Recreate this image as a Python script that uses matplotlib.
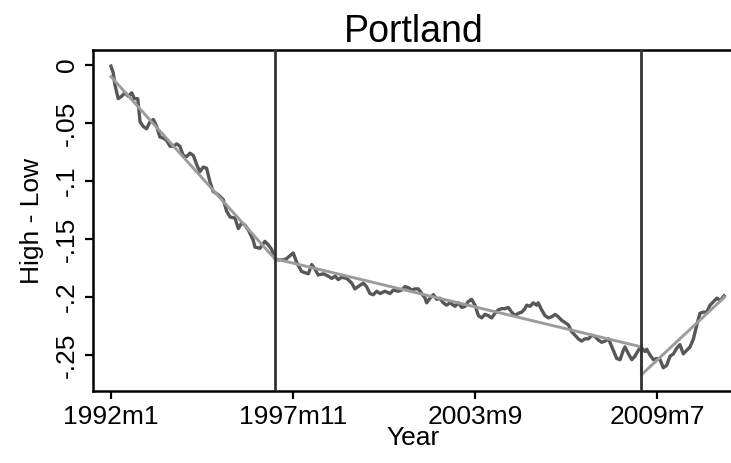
import numpy as np
import matplotlib
matplotlib.use("Agg")
import matplotlib.pyplot as plt

# months since 1992m1 (traced positions) and High - Low values
months = [0, 0.9, 1.5, 2.8, 4.1, 5.4, 6.7, 8.0, 9.0, 10.3, 11.2, 12.4, 13.7, 15.0, 16.3,
          17.6, 18.8, 20.1, 21.4, 22.7, 24.0, 25.3, 26.5, 27.8, 29.1, 30.4, 31.7, 33.0,
          34.2, 35.5, 36.8, 38.1, 39.3, 41.3, 43.2, 44.5, 45.8, 47.7, 49.0, 50.3, 51.5,
          52.8, 54.7, 55.4, 57.3, 59.2, 60.5, 61.8, 63.1, 64.3, 66.3, 67.5, 70.1, 71.4,
          73.3, 75.9, 77.2, 78.5, 79.7, 81.7, 83.6, 84.9, 86.2, 87.4, 88.7, 90.7, 92.6,
          93.8, 95.1, 97.0, 98.3, 99.6, 100.9, 102.2, 103.5, 105.4, 107.3, 108.6, 110.5,
          111.8, 113.1, 114.4, 115.7, 116.9, 118.2, 119.5, 120.8, 121.4, 122.7, 124.0,
          125.3, 126.5, 127.8, 129.1, 130.4, 131.7, 132.3, 133.6, 134.9, 136.2, 137.4,
          138.7, 140.0, 141.3, 142.6, 143.8, 145.1, 146.4, 147.7, 149.0, 150.3, 151.5,
          152.8, 154.1, 155.4, 156.7, 158.0, 159.2, 159.9, 161.2, 162.4, 163.7, 164.3,
          165.6, 166.9, 168.2, 169.5, 170.8, 172.0, 173.3, 174.6, 175.9, 177.2, 178.5,
          179.7, 181.0, 182.3, 183.6, 184.9, 186.2, 187.4, 188.7, 190.0, 191.3, 191.9,
          193.2, 194.5, 195.8, 197.0, 197.7, 199.0, 200.3, 201.5, 202.8, 203.7, 205.4,
          206.0, 207.3, 208.6, 209.9, 211.2, 212.4, 213.7, 215.0, 216.3, 217.6, 218.8,
          220.1, 221.4, 222.7, 224.0, 225.3, 226.5, 227.8, 229.1, 230.4, 231.7, 233.0,
          234.3, 235.8]
high_low = [-0.001, -0.007, -0.017, -0.029, -0.027, -0.024, -0.027, -0.024, -0.029, -0.029,
            -0.049, -0.053, -0.055, -0.049, -0.047, -0.053, -0.062, -0.063, -0.065, -0.070,
            -0.070, -0.068, -0.070, -0.078, -0.079, -0.076, -0.078, -0.086, -0.092, -0.088,
            -0.089, -0.101, -0.109, -0.112, -0.116, -0.126, -0.131, -0.132, -0.141, -0.136,
            -0.138, -0.142, -0.151, -0.157, -0.158, -0.152, -0.155, -0.159, -0.167, -0.168,
            -0.168, -0.167, -0.162, -0.170, -0.178, -0.180, -0.172, -0.176, -0.181, -0.180,
            -0.182, -0.184, -0.182, -0.185, -0.183, -0.184, -0.188, -0.193, -0.191, -0.188,
            -0.191, -0.197, -0.198, -0.195, -0.197, -0.195, -0.197, -0.194, -0.195, -0.194,
            -0.191, -0.192, -0.194, -0.193, -0.193, -0.197, -0.201, -0.205, -0.201, -0.198,
            -0.202, -0.201, -0.205, -0.207, -0.205, -0.207, -0.208, -0.205, -0.209, -0.208,
            -0.204, -0.202, -0.207, -0.216, -0.218, -0.215, -0.216, -0.218, -0.214, -0.211,
            -0.210, -0.210, -0.209, -0.213, -0.216, -0.214, -0.213, -0.210, -0.207, -0.208,
            -0.205, -0.207, -0.205, -0.211, -0.216, -0.218, -0.217, -0.215, -0.217, -0.220,
            -0.222, -0.224, -0.230, -0.233, -0.236, -0.238, -0.236, -0.236, -0.233, -0.234,
            -0.237, -0.239, -0.238, -0.236, -0.239, -0.246, -0.253, -0.254, -0.246, -0.243,
            -0.249, -0.254, -0.251, -0.246, -0.243, -0.247, -0.245, -0.250, -0.254, -0.253,
            -0.254, -0.261, -0.259, -0.251, -0.249, -0.244, -0.241, -0.249, -0.246, -0.243,
            -0.236, -0.224, -0.214, -0.213, -0.213, -0.207, -0.204, -0.201, -0.203, -0.199]

# piecewise linear fit (breaks at 1997m4 and 2009m1)
fit_months = [0, 63, 204, 204, 236]
fit_values = [-0.010, -0.167, -0.243, -0.267, -0.200]
break_months = [63, 204]

xtick_pos = [0, 70, 140, 210]
xtick_labels = ["1992m1", "1997m11", "2003m9", "2009m7"]
ytick_pos = [0, -0.05, -0.1, -0.15, -0.2, -0.25]
ytick_labels = ["0", "-.05", "-.1", "-.15", "-.2", "-.25"]

plt.rcParams['font.family'] = ['Liberation Sans', 'DejaVu Sans']

fig = plt.figure(figsize=(7.31, 4.63), dpi=100)
ax = fig.add_axes([93/731, 72/463, 641/731, 341/463])

ax.plot(months, high_low, color="#575757", lw=2.4, zorder=2)
ax.plot(fit_months, fit_values, color="#9c9c9c", lw=2.1, zorder=3)
for b in break_months:
    ax.axvline(b, color="#333333", lw=2.0, zorder=4)

ax.set_xlim(-6.9, 239.6)
ax.set_ylim(-0.281, 0.0129)

ax.set_xticks(xtick_pos)
ax.set_xticklabels(xtick_labels)
ax.set_yticks(ytick_pos)
ax.set_yticklabels(ytick_labels, rotation=90, va="center")
ax.tick_params(direction="out", length=6, width=1.6, labelsize=19, pad=4)

for s in ax.spines.values():
    s.set_linewidth(1.8)

ax.set_xlabel("Year", fontsize=19, labelpad=-2)
ax.set_ylabel("High - Low", fontsize=19, labelpad=8)
ax.set_title("Portland", fontsize=27, pad=3)

fig.savefig("out.png", dpi=100)
